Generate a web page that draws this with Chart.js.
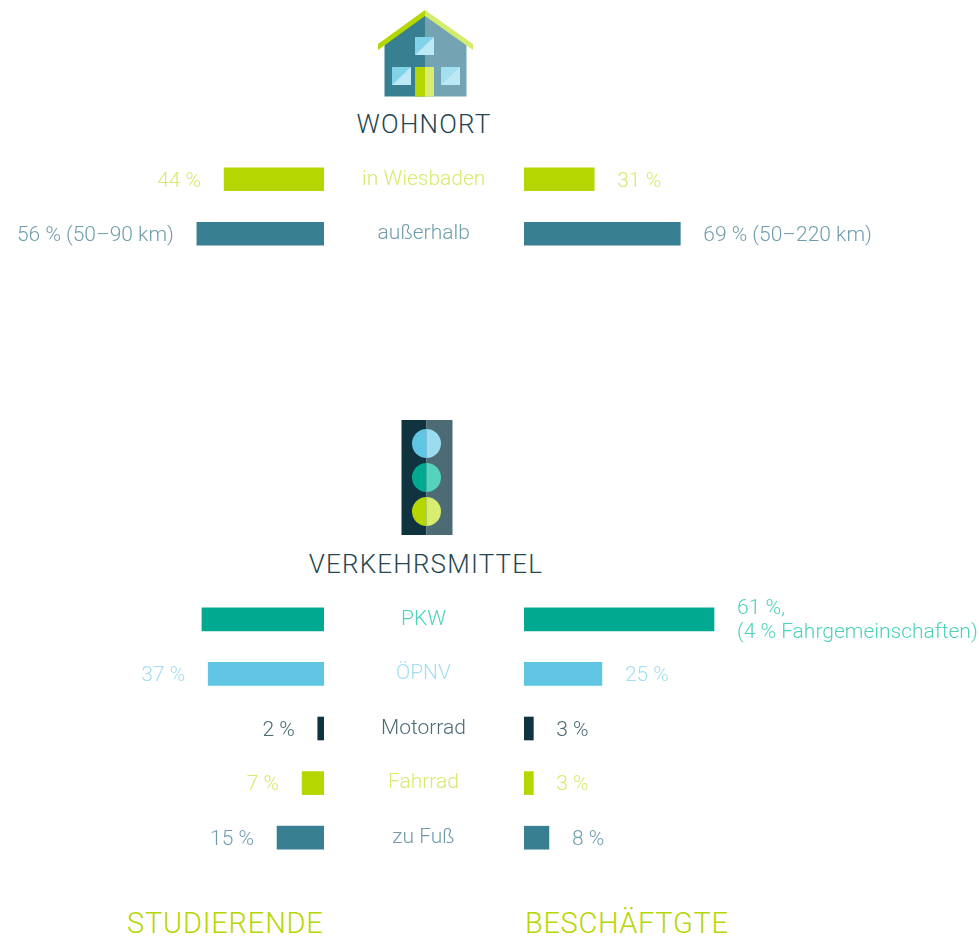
<!DOCTYPE html>
<html lang="de">
<head>
<meta charset="utf-8">
<title>Wohnort und Verkehrsmittel</title>
<script src="https://cdn.jsdelivr.net/npm/chart.js@4"></script>
<style>
html,body{margin:0;padding:0;background:#fff;width:979px;height:938px;overflow:hidden}
body{position:relative;font-family:Roboto,sans-serif}
canvas{position:absolute}
svg{position:absolute}
.t{position:absolute;font-weight:300;white-space:nowrap;line-height:1}
.head{color:#254651;font-size:26px;letter-spacing:1.2px;text-align:center;width:400px}
.foot{color:#b5d600;font-size:29px;top:909px}
</style>
</head>
<body>
<svg style="left:370px;top:4px" width="112" height="100" viewBox="370 4 112 100">
  <polygon points="384.500,45 425,12 425,96.500 384.500,96.500" fill="#387f91"/>
  <polygon points="425,12 466.500,45 466.500,96.500 425,96.500" fill="#74a4b3"/>
  <polygon points="378,50 378,44 425,10 425,16" fill="#b5d600"/>
  <polygon points="425,10 473,44 473,50 425,16" fill="#d4ec6e"/>
  <rect x="415" y="37" width="19" height="18" fill="#82d2e9"/><polygon points="434,37 434,55 415,55" fill="#bde8f5"/>
  <rect x="392" y="67" width="19" height="18" fill="#82d2e9"/><polygon points="411,67 411,85 392,85" fill="#bde8f5"/>
  <rect x="441" y="67" width="19" height="18" fill="#bde8f5"/><polygon points="441,85 460,67 441,67" fill="#a3dff0"/>
  <rect x="415" y="67" width="10" height="29.500" fill="#b5d600"/>
  <rect x="425" y="67" width="9" height="29.500" fill="#d8ec70"/>
</svg>
<svg style="left:395px;top:415px" width="64" height="125" viewBox="395 415 64 125">
  <rect x="401.500" y="420" width="25" height="115" fill="#10343f"/>
  <rect x="426.500" y="420" width="26" height="115" fill="#4d6b75"/>
  <path d="M426.500 429a14.500 14.500 0 0 0 0 29z" fill="#5fc5e2"/><path d="M426.500 429a14.500 14.500 0 0 1 0 29z" fill="#9bdcf0"/>
  <path d="M426.500 463a14.500 14.500 0 0 0 0 29z" fill="#00a98f"/><path d="M426.500 463a14.500 14.500 0 0 1 0 29z" fill="#55d3bd"/>
  <path d="M426.500 497a14.500 14.500 0 0 0 0 29z" fill="#b5d600"/><path d="M426.500 497a14.500 14.500 0 0 1 0 29z" fill="#d8ec70"/>
</svg>
<div class="t head" style="top:111px;left:224px">WOHNORT</div>
<div class="t head" style="top:551px;left:226px">VERKEHRSMITTEL</div>
<div class="t foot" style="left:127px;letter-spacing:.8px">STUDIERENDE</div>
<div class="t foot" style="left:525px;letter-spacing:.65px">BESCHÄFTGTE</div>

<canvas id="topLeft" width="524" height="109" style="left:0;top:152px"></canvas>
<canvas id="topRight" width="455" height="109" style="left:524px;top:152px"></canvas>
<canvas id="botLeft" width="524" height="273" style="left:0;top:592px"></canvas>
<canvas id="botRight" width="455" height="273" style="left:524px;top:592px"></canvas>

<script>
const wohnortCategories = ['in Wiesbaden', 'außerhalb'];
const wohnortStudierende = [44, 56];
const wohnortBeschaeftigte = [31, 69];
const wohnortStudierendeLabels = ['44 %', '56 % (50–90 km)'];
const wohnortBeschaeftigteLabels = ['31 %', '69 % (50–220 km)'];
const wohnortBarColors = ['#b5d600', '#387f91'];
const wohnortTextColors = ['#d4ec6e', '#6f9dac'];

const verkehrCategories = ['PKW', 'ÖPNV', 'Motorrad', 'Fahrrad', 'zu Fuß'];
const verkehrStudierende = [39, 37, 2, 7, 15];
const verkehrBeschaeftigte = [61, 25, 3, 3, 8];
const verkehrStudierendeLabels = ['', '37 %', '2 %', '7 %', '15 %'];
const verkehrBeschaeftigteLabels = [['61 %,', '(4 % Fahrgemeinschaften)'], '25 %', '3 %', '3 %', '8 %'];
const verkehrBarColors = ['#00a98f', '#5fc5e2', '#10343f', '#b5d600', '#387f91'];
const verkehrTextColors = ['#4dd2ba', '#a3def2', '#4c6a75', '#d4ec6e', '#6f9dac'];

const FONT = {family: 'Roboto, sans-serif', size: 21, weight: '300'};
const GAP = 23;

const valueLabelPlugin = {
  id: 'valueLabels',
  afterDatasetsDraw(chart, _args, opts) {
    const {ctx} = chart;
    const bars = chart.getDatasetMeta(0).data;
    ctx.save();
    ctx.font = `${FONT.weight} ${FONT.size}px ${FONT.family}`;
    ctx.textBaseline = 'middle';
    ctx.textAlign = opts.side === 'left' ? 'right' : 'left';
    bars.forEach((bar, i) => {
      const x = opts.side === 'left' ? bar.x - GAP : bar.x + GAP;
      const text = opts.labels[i];
      ctx.fillStyle = opts.colors[i];
      if (Array.isArray(text)) {
        text.forEach((line, j) => ctx.fillText(line, x, bar.y + 1 + (j - (text.length - 1) / 2) * 24));
      } else {
        ctx.fillText(text, x, bar.y + 2);
      }
    });
    ctx.restore();
  }
};

function makeChart(id, side, categories, values, barColors, textColors, labels, pxPerUnit, plotWidth, labelInset) {
  const isLeft = side === 'left';
  new Chart(document.getElementById(id), {
    type: 'bar',
    data: {labels: categories, datasets: [{data: values, backgroundColor: barColors, barThickness: 23, borderWidth: 0}]},
    plugins: [valueLabelPlugin],
    options: {
      indexAxis: 'y',
      responsive: false,
      animation: false,
      layout: {padding: 0},
      plugins: {
        legend: {display: false},
        tooltip: {enabled: false},
        valueLabels: {side, labels, colors: textColors}
      },
      scales: {
        x: {display: false, reverse: isLeft, min: 0, max: plotWidth / pxPerUnit},
        y: {
          display: isLeft,
          position: 'right',
          grid: {display: false, drawTicks: true, tickLength: labelInset},
          border: {display: false},
          afterFit(scale) {
            if (isLeft) scale.width = 200;
            scale.paddingTop = 0;
            scale.paddingBottom = 0;
          },
          ticks: {
            padding: 0,
            crossAlign: 'center',
            autoSkip: false,
            font: FONT,
            color: ctx => textColors[ctx.index]
          }
        }
      }
    }
  });
}

makeChart('topLeft', 'left', wohnortCategories, wohnortStudierende, wohnortBarColors, wohnortTextColors, wohnortStudierendeLabels, 2.27, 324, 38);
makeChart('topRight', 'right', wohnortCategories, wohnortBeschaeftigte, wohnortBarColors, wohnortTextColors, wohnortBeschaeftigteLabels, 2.265, 455, 0);
makeChart('botLeft', 'left', verkehrCategories, verkehrStudierende, verkehrBarColors, verkehrTextColors, verkehrStudierendeLabels, 3.13, 324, 57);
makeChart('botRight', 'right', verkehrCategories, verkehrBeschaeftigte, verkehrBarColors, verkehrTextColors, verkehrBeschaeftigteLabels, 3.115, 455, 0);
</script>
</body>
</html>
